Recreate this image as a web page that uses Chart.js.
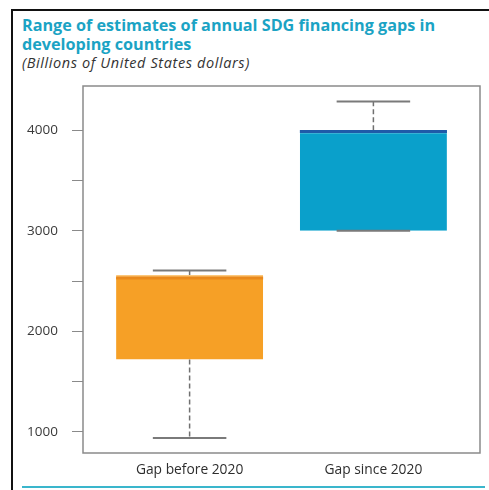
<!DOCTYPE html>
<html>
<head>
<meta charset="utf-8">
<script src="https://cdn.jsdelivr.net/npm/chart.js@4/dist/chart.umd.min.js"></script>
<style>
  body { margin: 0; background: #fff; }
  #wrap { position: relative; width: 489px; height: 490px; overflow: hidden; font-family: "Open Sans", sans-serif; }
  #frame { position: absolute; left: 11px; top: 9px; width: 480px; height: 490px; border-left: 2px solid #111; border-top: 2px solid #111; }
  #title { position: absolute; left: 22px; top: 16px; margin: 0; font-size: 16.2px; line-height: 18.5px; font-weight: 700; color: #1ba3c4; }
  #sub { position: absolute; left: 22px; top: 53px; margin: 0; font-size: 14.5px; letter-spacing: 0.6px; font-style: italic; color: #333; }
  #rule { position: absolute; left: 22px; top: 486px; width: 463px; height: 2px; background: #3ab6cc; }
  canvas { position: absolute; left: 0; top: 0; }
</style>
</head>
<body>
<div id="wrap">
  <div id="frame"></div>
  <div id="title">Range of estimates of annual SDG financing gaps in<br>developing countries</div>
  <div id="sub">(Billions of United States dollars)</div>
  <canvas id="chart" width="489" height="490"></canvas>
  <div id="rule"></div>
</div>
<script>
const categories = ['Gap before 2020', 'Gap since 2020'];
const lowerWhisker = [940, 3000];
const q1 = [1720, 3000];
const median = [2530, 3988];
const q3 = [2560, 4000];
const upperWhisker = [2605, 4285];
const yTicks = [1000, 1500, 2000, 2500, 3000, 3500, 4000];
const yLabels = ['1000', '', '2000', '', '3000', '', '4000'];

const boxColors = ['#f6a026', '#0aa0cb'];
const topEdgeColors = ['#fcc77a', '#0aa0cb'];
const medianColors = ['#e9891c', '#1f5aa8'];

const whiskerPlugin = {
  id: 'whiskers',
  afterDatasetsDraw(chart) {
    const { ctx, scales: { x, y } } = chart;
    const meta = chart.getDatasetMeta(0);
    ctx.save();
    categories.forEach((c, i) => {
      const bar = meta.data[i];
      const cx = x.getPixelForValue(i + 1);
      const half = bar.width / 2;
      // dashed whiskers
      ctx.strokeStyle = '#707070';
      ctx.lineWidth = 1.5;
      ctx.setLineDash([5, 3]);
      ctx.beginPath();
      ctx.moveTo(cx, y.getPixelForValue(q3[i]));
      ctx.lineTo(cx, y.getPixelForValue(upperWhisker[i]));
      ctx.moveTo(cx, y.getPixelForValue(q1[i]));
      ctx.lineTo(cx, y.getPixelForValue(lowerWhisker[i]));
      ctx.stroke();
      // caps
      ctx.setLineDash([]);
      ctx.strokeStyle = '#7a7a7a';
      ctx.lineWidth = 2;
      ctx.beginPath();
      [upperWhisker[i], lowerWhisker[i]].forEach(v => {
        const py = y.getPixelForValue(v);
        ctx.moveTo(cx - half / 2, py);
        ctx.lineTo(cx + half / 2, py);
      });
      ctx.stroke();
      // median
      ctx.strokeStyle = medianColors[i];
      ctx.lineWidth = 3;
      ctx.beginPath();
      const my = y.getPixelForValue(median[i]);
      ctx.moveTo(cx - half, my);
      ctx.lineTo(cx + half, my);
      ctx.stroke();
    });
    ctx.restore();
  },
  afterDraw(chart) {
    const { ctx, chartArea: a } = chart;
    ctx.save();
    ctx.strokeStyle = '#8a8a8a';
    ctx.lineWidth = 1.5;
    ctx.strokeRect(a.left, a.top, a.right - a.left, a.bottom - a.top);
    ctx.restore();
  }
};

new Chart(document.getElementById('chart'), {
  type: 'bar',
  data: {
    datasets: [{
      data: categories.map((c, i) => ({ x: i + 1, y: [q1[i], q3[i]] })),
      backgroundColor: boxColors,
      borderColor: topEdgeColors,
      borderWidth: { top: 3, bottom: 0, left: 0, right: 0 },
      borderSkipped: false,
      categoryPercentage: 1,
      barPercentage: 0.8
    }]
  },
  options: {
    responsive: false,
    animation: false,
    devicePixelRatio: 1,
    layout: { padding: { left: 12, right: 9, top: 86, bottom: 10 } },
    plugins: { legend: { display: false }, tooltip: { enabled: false } },
    scales: {
      x: {
        type: 'linear',
        min: 0.42,
        max: 2.58,
        offset: false,
        grid: { display: false, drawTicks: false, offset: false },
        border: { display: false },
        afterBuildTicks: s => { s.ticks = categories.map((c, i) => ({ value: i + 1 })); },
        afterFit: s => { s.height = 27; },
        ticks: {
          padding: 9,
          color: '#2e2e2e',
          font: { family: 'Open Sans', size: 13.8 },
          callback: v => categories[v - 1]
        }
      },
      y: {
        min: 790,
        max: 4440,
        border: { display: false },
        grid: { drawOnChartArea: false, tickLength: 11, color: '#8a8a8a', lineWidth: 1 },
        afterBuildTicks: s => { s.ticks = yTicks.map(v => ({ value: v })); },
        afterFit: s => { s.width = 71; },
        ticks: {
          padding: 14,
          color: '#3a3a3a',
          font: { family: 'Open Sans', size: 13.5 },
          callback: (v, i) => yLabels[i]
        }
      }
    }
  },
  plugins: [whiskerPlugin]
});
</script>
</body>
</html>
